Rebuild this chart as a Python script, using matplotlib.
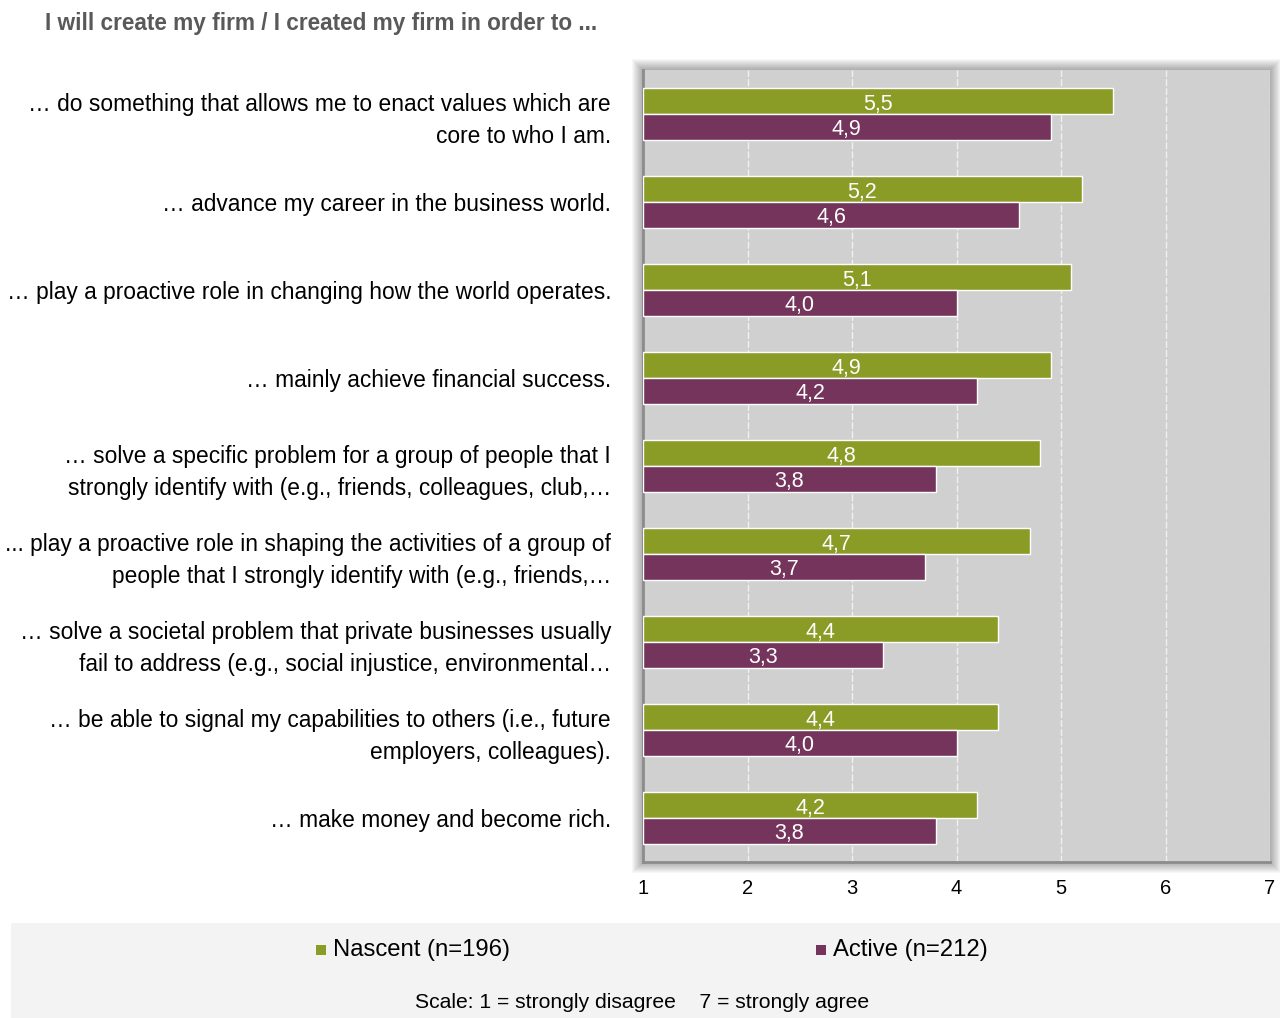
import matplotlib.pyplot as plt
from matplotlib.patches import Rectangle

plt.rcParams['font.family'] = ['Liberation Sans', 'DejaVu Sans']

title = "I will create my firm / I created my firm in order to ..."
statements = [
    "… do something that allows me to enact values which are\ncore to who I am.",
    "… advance my career in the business world.",
    "… play a proactive role in changing how the world operates.",
    "… mainly achieve financial success.",
    "… solve a specific problem for a group of people that I\nstrongly identify with (e.g., friends, colleagues, club,…",
    "... play a proactive role in shaping the activities of a group of\npeople that I strongly identify with (e.g., friends,…",
    "… solve a societal problem that private businesses usually\nfail to address (e.g., social injustice, environmental…",
    "… be able to signal my capabilities to others (i.e., future\nemployers, colleagues).",
    "… make money and become rich.",
]
nascent = [5.5, 5.2, 5.1, 4.9, 4.8, 4.7, 4.4, 4.4, 4.2]
active = [4.9, 4.6, 4.0, 4.2, 3.8, 3.7, 3.3, 4.0, 3.8]
series_names = ["Nascent (n=196)", "Active (n=212)"]
scale_note = "Scale: 1 = strongly disagree    7 = strongly agree"
scale_min, scale_max = 1, 7

green = "#8b9c26"
purple = "#74345c"

W, H = 1280, 1018
fig = plt.figure(figsize=(W / 100, H / 100), dpi=100)

# plot area in pixels
x0, x1, y0, y1 = 643, 1270, 70, 862
ax = fig.add_axes([x0 / W, 1 - y1 / H, (x1 - x0) / W, (y1 - y0) / H])

# soft drop shadow behind the plot area
for k in range(1, 12):
    fig.patches.append(Rectangle(((x0 - k) / W, 1 - (y1 + k) / H),
                                 (x1 - x0 + 2 * k) / W, (y1 - y0 + 2 * k) / H,
                                 transform=fig.transFigure, facecolor="black",
                                 edgecolor="none", alpha=0.03, zorder=-5))

ax.set_facecolor("#d0d0d0")
pos = list(range(len(statements)))
h = 0.3
ax.barh([p - h / 2 for p in pos], [v - scale_min for v in nascent], left=scale_min,
        height=h, color=green, edgecolor="white", linewidth=1, zorder=3)
ax.barh([p + h / 2 for p in pos], [v - scale_min for v in active], left=scale_min,
        height=h, color=purple, edgecolor="white", linewidth=1, zorder=3)

for p, v in zip(pos, nascent):
    ax.text((scale_min + v) / 2, p - h / 2 + 0.045, f"{v:.1f}".replace(".", ","),
            ha="center", va="center", color="white", fontsize=15.5, zorder=4)
for p, v in zip(pos, active):
    ax.text((scale_min + v) / 2, p + h / 2 + 0.03, f"{v:.1f}".replace(".", ","),
            ha="center", va="center", color="white", fontsize=15.5, zorder=4)

ax.set_xlim(scale_min, scale_max)
ax.set_ylim(len(statements) - 0.5, -0.5)
ax.set_xticks(range(scale_min, scale_max + 1))
ax.tick_params(axis="x", length=0, pad=12, labelsize=14.5)
ax.set_yticks(pos)
ax.set_yticklabels(statements, fontsize=16.4, linespacing=1.5)
ax.tick_params(axis="y", length=0, pad=23)
ax.grid(axis="x", color="#f0f0f0", linestyle=(0, (5, 1.5)), linewidth=1, zorder=1)
ax.set_axisbelow(True)
for side in ["top", "right"]:
    ax.spines[side].set_visible(False)
ax.spines["left"].set_color("#8c8c8c")
ax.spines["left"].set_linewidth(2)
ax.spines["bottom"].set_color("#8c8c8c")
ax.spines["bottom"].set_linewidth(2)

fig.text(45 / W, 1 - 23 / H, title, fontsize=16.3, fontweight="bold",
         color="#595959", ha="left", va="center")

# legend panel
fig.patches.append(Rectangle((11 / W, 0), (W - 11) / W, (H - 923) / H,
                             transform=fig.transFigure, facecolor="#f3f3f3",
                             edgecolor="none", zorder=-10))
for name, col, xs in [(series_names[0], green, 316), (series_names[1], purple, 816)]:
    fig.patches.append(Rectangle((xs / W, 1 - 955 / H), 10 / W, 10 / H,
                                 transform=fig.transFigure, facecolor=col,
                                 edgecolor="none"))
    fig.text((xs + 17) / W, 1 - 950 / H, name, fontsize=17.2, ha="left", va="center")
fig.text(642 / W, 1 - 1003 / H, scale_note, fontsize=15.2, ha="center", va="center")

fig.savefig("out.png", dpi=100)
